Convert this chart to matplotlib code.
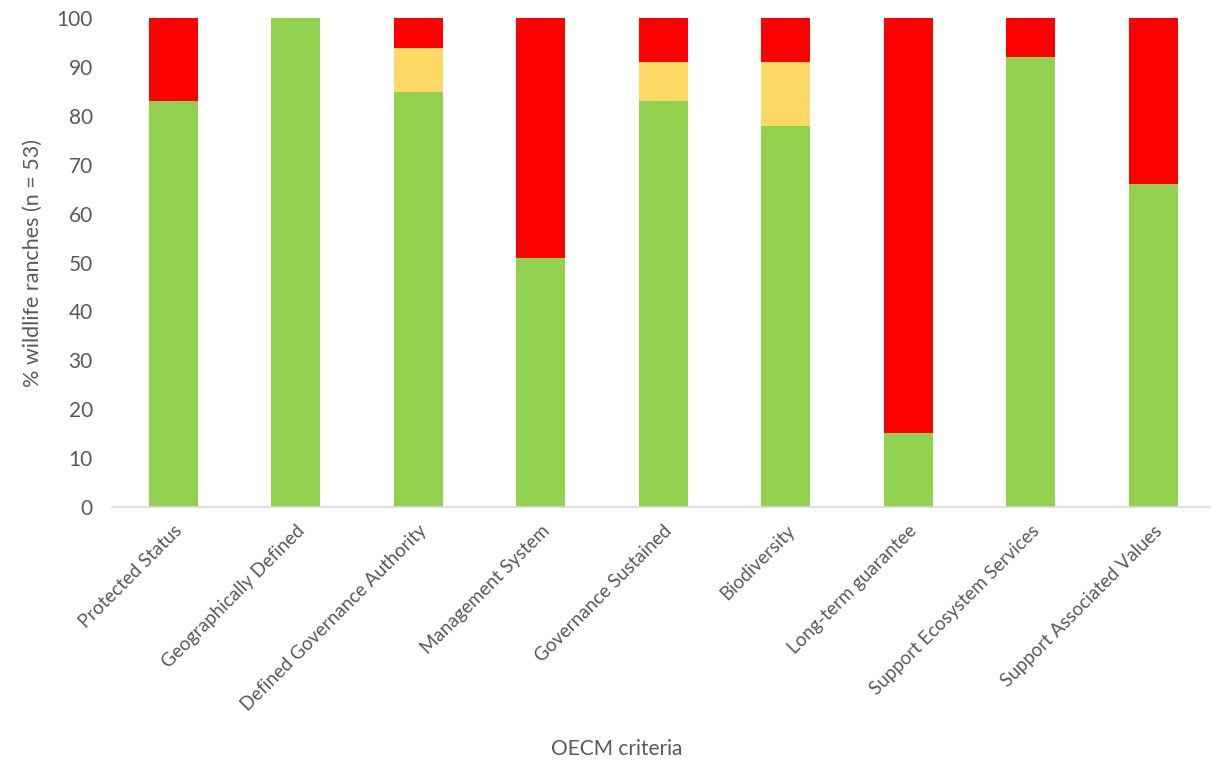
# Stacked bar chart of OECM criteria met by wildlife ranches.

import matplotlib.pyplot as plt
import numpy as np

categories = [
    "Protected Status",
    "Geographically Defined",
    "Defined Governance Authority",
    "Management System",
    "Governance Sustained",
    "Biodiversity",
    "Long-term guarantee",
    "Support Ecosystem Services",
    "Support Associated Values",
]
green_values = [83, 100, 85, 51, 83, 78, 15, 92, 66]
yellow_values = [0, 0, 9, 0, 8, 13, 0, 0, 0]
red_values = [17, 0, 6, 49, 9, 9, 85, 8, 34]

plt.rcParams["font.family"] = ["Lato", "DejaVu Sans"]

fig = plt.figure(figsize=(12.11, 7.65), dpi=100)
ax = fig.add_axes([0.0927, 0.3376, 0.9073, 0.6384])

x = np.arange(len(categories))
green = np.array(green_values)
yellow = np.array(yellow_values)
red = np.array(red_values)

ax.bar(x, green, width=0.4, color="#92D050", zorder=2)
ax.bar(x, yellow, width=0.4, bottom=green, color="#FFD966", zorder=2)
ax.bar(x, red, width=0.4, bottom=green + yellow, color="#FF0000", zorder=2)

ax.set_xlim(-0.5, 8.47)
ax.set_ylim(0, 100)
ax.set_yticks(np.arange(0, 101, 10))
ax.tick_params(axis="y", length=0, labelsize=15, labelcolor="#595959", pad=14)
ax.tick_params(axis="x", length=0, labelsize=13.5, labelcolor="#595959", pad=11)
ax.set_xticks(x)
ax.set_xticklabels(categories, rotation=45, ha="right", rotation_mode="anchor")

for side in ["top", "right", "left"]:
    ax.spines[side].set_visible(False)
ax.spines["bottom"].set_color("#D9D9D9")
ax.spines["bottom"].set_linewidth(1.2)

ax.set_ylabel("% wildlife ranches (n = 53)", fontsize=15.5, color="#595959", labelpad=10)
fig.text(0.509, 0.013, "OECM criteria", fontsize=15, color="#595959", ha="center")

fig.savefig("out.png", dpi=100)
plt.close(fig)
